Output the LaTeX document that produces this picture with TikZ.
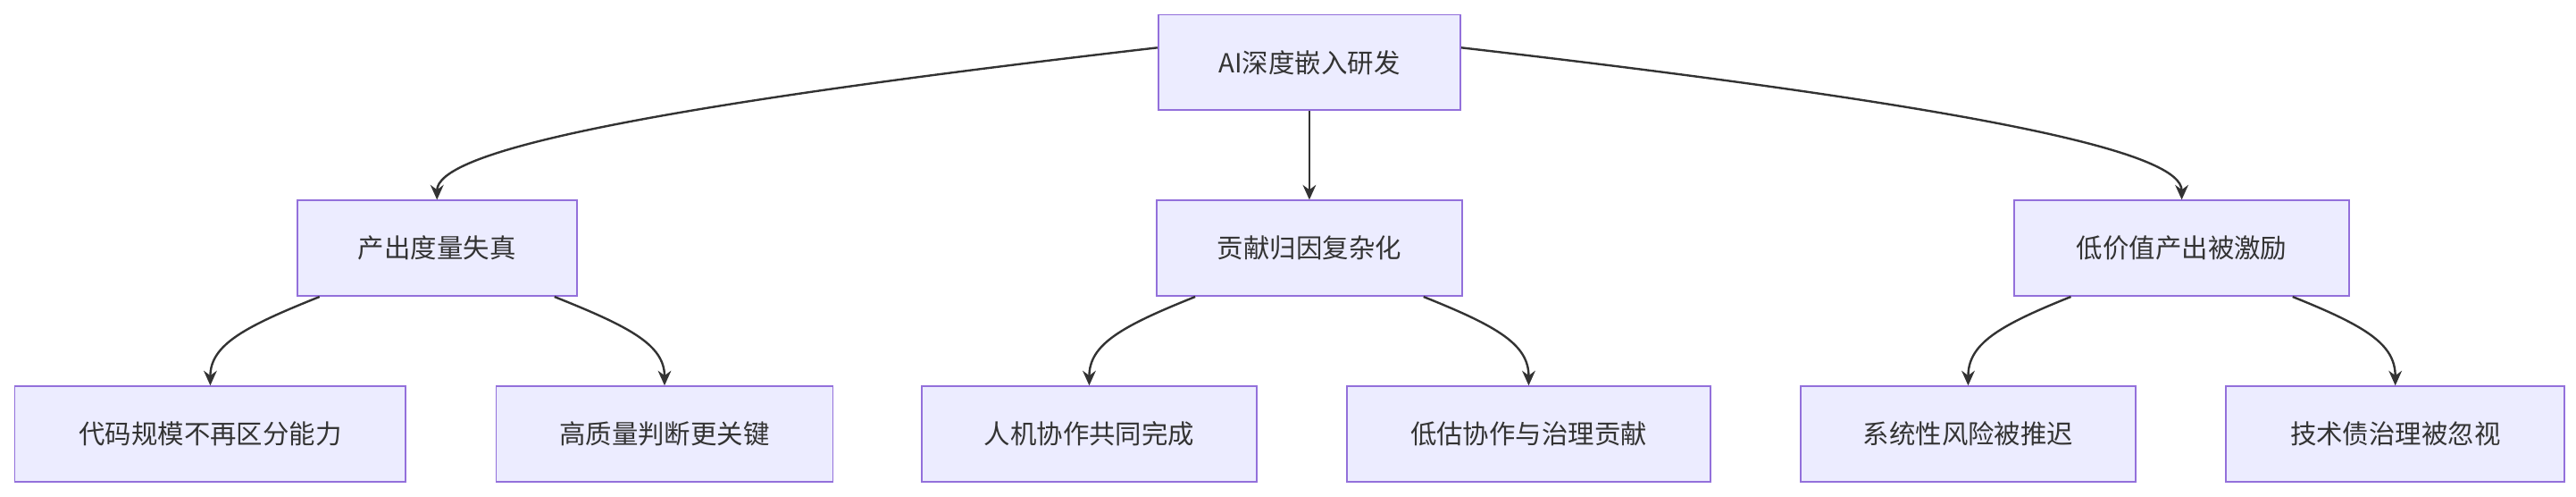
\documentclass[tikz,border=0pt]{standalone}
\usepackage{fontspec}
\setmainfont{Noto Sans CJK SC}
\usetikzlibrary{arrows.meta,calc}
\definecolor{boxfill}{HTML}{ECECFF}
\definecolor{boxline}{HTML}{9370DB}
\definecolor{edge}{HTML}{333333}
\tikzset{
  box/.style={draw=boxline,fill=boxfill,line width=1pt,minimum height=58pt,
    inner sep=0pt,font=\fontsize{16}{18}\selectfont,text=edge},
  link/.style={draw=edge,line width=1.3pt,-{Stealth[length=9pt,width=8pt]}}
}
\begin{document}
\begin{tikzpicture}[x=1pt,y=-1pt]
\useasboundingbox (0,0) rectangle (1568,302);

%top
\node[box,minimum width=184pt] (ai) at (797,38) {AI深度嵌入研发};

%middle row
\node[box,minimum width=170pt] (out) at (266,151) {产出度量失真};
\node[box,minimum width=186pt] (attr) at (797,151) {贡献归因复杂化};
\node[box,minimum width=204pt] (low) at (1328,151) {低价值产出被激励};

%bottom row
\node[box,minimum width=238pt] (code) at (128,264) {代码规模不再区分能力};
\node[box,minimum width=205pt] (judge) at (404.5,264) {高质量判断更关键};
\node[box,minimum width=204pt] (coop) at (663,264) {人机协作共同完成};
\node[box,minimum width=221pt] (gov) at (930.5,264) {低估协作与治理贡献};
\node[box,minimum width=204pt] (risk) at (1198,264) {系统性风险被推迟};
\node[box,minimum width=206pt] (debt) at (1458,264) {技术债治理被忽视};

%edges from top
\draw[link] ([yshift=9]ai.west) .. controls +(-330,38) and +(0,-28) .. (out.north);
\draw[link] (ai.south) -- (attr.north);
\draw[link] ([yshift=9]ai.east) .. controls +(330,38) and +(0,-28) .. (low.north);

%edges to bottom
\draw[link] ([xshift=14]out.south west) .. controls +(-45,18) and +(0,-25) .. (code.north);
\draw[link] ([xshift=-14]out.south east) .. controls +(45,18) and +(0,-25) .. (judge.north);
\draw[link] ([xshift=24]attr.south west) .. controls +(-45,18) and +(0,-25) .. (coop.north);
\draw[link] ([xshift=-24]attr.south east) .. controls +(45,18) and +(0,-25) .. (gov.north);
\draw[link] ([xshift=35]low.south west) .. controls +(-45,18) and +(0,-25) .. (risk.north);
\draw[link] ([xshift=-35]low.south east) .. controls +(45,18) and +(0,-25) .. (debt.north);
\end{tikzpicture}
\end{document}
